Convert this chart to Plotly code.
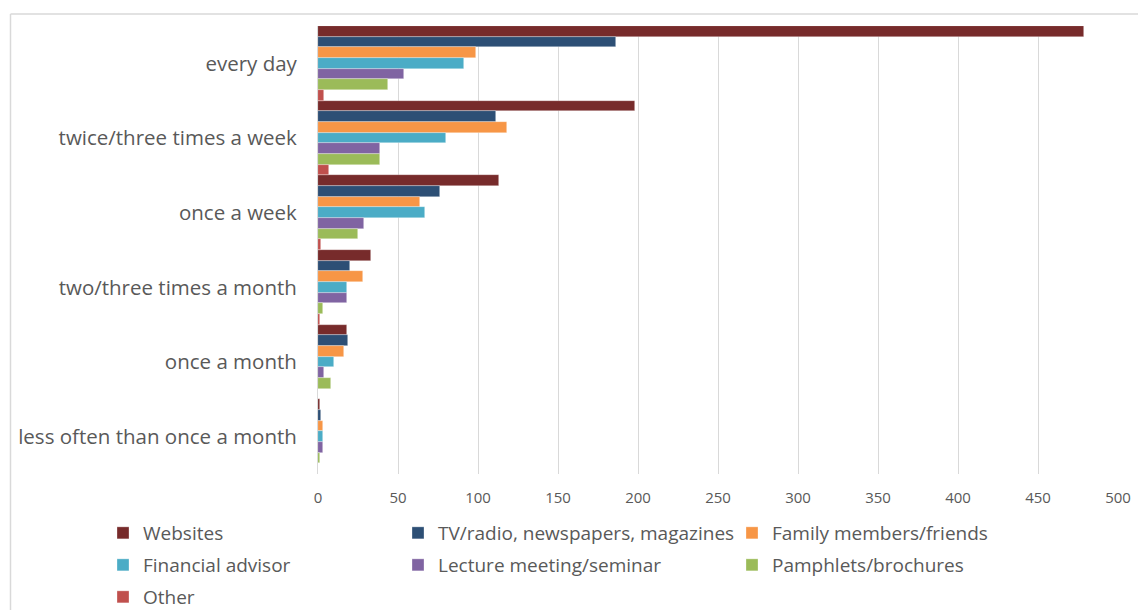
import plotly.graph_objects as go

# Frequency of consulting each information source
categories = [
    "every day",
    "twice/three times a week",
    "once a week",
    "two/three times a month",
    "once a month",
    "less often than once a month",
]

websites = [479, 198, 113, 33, 18, 1]
tv_radio_press = [186, 111, 76, 20, 19, 2]
family_friends = [99, 118, 64, 28, 16, 3]
financial_advisor = [91, 80, 67, 18, 10, 3]
lecture_seminar = [54, 39, 29, 18, 4, 3]
pamphlets = [44, 39, 25, 3, 8, 1]
other = [4, 7, 2, 1, 0, 0]

series = [
    ("Websites", websites, "#772B2B"),
    ("TV/radio, newspapers, magazines", tv_radio_press, "#2D4F75"),
    ("Family members/friends", family_friends, "#F79646"),
    ("Financial advisor", financial_advisor, "#4BACC6"),
    ("Lecture meeting/seminar", lecture_seminar, "#8064A2"),
    ("Pamphlets/brochures", pamphlets, "#9BBB59"),
    ("Other", other, "#C0504D"),
]

W, H = 1138, 610
ML, MR, MT, MB = 318, 20, 26, 136
PW, PH = W - ML - MR, H - MT - MB

# legend grid: three columns, three rows; each entry gets its own legend box
col_px = [116, 411, 745]
row_px = [533, 565, 597]
slots = [(0, 0), (1, 0), (2, 0), (0, 1), (1, 1), (2, 1), (0, 2)]
legend_ids = ["legend"] + [f"legend{i}" for i in range(2, len(series) + 1)]

fig = go.Figure()
for (name, vals, color), lg in zip(series, legend_ids):
    fig.add_trace(go.Bar(
        y=categories, x=vals, name=name, orientation="h", legend=lg,
        marker=dict(color=color, line=dict(color="rgba(255,255,255,0.5)", width=0.6)),
    ))

font = "Open Sans, Liberation Sans, sans-serif"


def entry_legend(col, row):
    xpx = col_px[col] - 13
    ypx = row_px[row]
    return dict(
        orientation="h",
        xref="container", yref="container",
        x=xpx / W, xanchor="left",
        y=(H - ypx) / H, yanchor="middle",
        font=dict(size=19, color="#595959"),
        itemwidth=30, bgcolor="rgba(0,0,0,0)",
    )


legends = {lg: entry_legend(c, r) for lg, (c, r) in zip(legend_ids, slots)}

fig.update_layout(
    width=W, height=H,
    margin=dict(l=ML, r=MR, t=MT, b=MB),
    paper_bgcolor="white", plot_bgcolor="white",
    barmode="group", bargap=0.0, bargroupgap=0.0,
    font=dict(family=font, color="#595959"),
    xaxis=dict(
        range=[0, 500], tickvals=list(range(0, 501, 50)),
        showgrid=True, gridcolor="#D9D9D9", gridwidth=1,
        zeroline=False, showline=False, automargin=False,
        tickfont=dict(size=15, color="#595959"), ticks="", ticklabelstandoff=13,
    ),
    yaxis=dict(
        autorange="reversed", showgrid=False, zeroline=False, automargin=False,
        showline=True, linecolor="#D9D9D9", linewidth=1,
        tickfont=dict(size=20.5, color="#595959"), ticks="", ticklabelstandoff=16,
    ),
    showlegend=True,
    **legends,
)

# Light chart-area frame along the left and top edges
frame = dict(color="#D9D9D9", width=1.5)
fig.add_shape(type="line", xref="paper", yref="paper",
              x0=(10.5 - ML) / PW, x1=(W + 10 - ML) / PW,
              y0=(H - MB - 14) / PH, y1=(H - MB - 14) / PH, line=frame)
fig.add_shape(type="line", xref="paper", yref="paper",
              x0=(10.5 - ML) / PW, x1=(10.5 - ML) / PW,
              y0=(H - MB - 14) / PH, y1=(H - MB - H - 10) / PH, line=frame)

fig.write_html("out.html")
